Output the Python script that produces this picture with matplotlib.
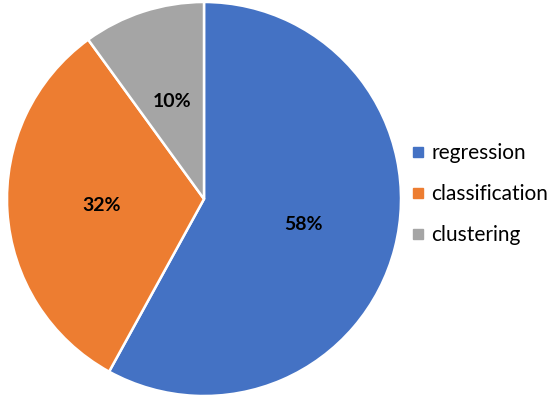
import matplotlib.pyplot as plt
from matplotlib.lines import Line2D

plt.rcParams['font.family'] = ['Lato', 'DejaVu Sans']

categories = ['regression', 'classification', 'clustering']
shares = [58, 32, 10]
colors = ['#4472C4', '#ED7D31', '#A5A5A5']

fig = plt.figure(figsize=(5.5, 4.03), dpi=100)
ax = fig.add_axes([7 / 550, 7 / 403, 394 / 550, 394 / 403])

wedges, texts, autotexts = ax.pie(
    shares, colors=colors, startangle=90, counterclock=False,
    autopct='%d%%', pctdistance=0.52,
    wedgeprops=dict(edgecolor='white', linewidth=1.8),
    textprops=dict(fontsize=14, fontweight='bold', color='black'),
)
ax.set_aspect('equal')
ax.set_xlim(-1, 1)
ax.set_ylim(-1, 1)

handles = [Line2D([], [], marker='s', linestyle='none', markersize=7,
                  markerfacecolor=c, markeredgecolor=c) for c in colors]
fig.legend(handles, categories, loc='center left',
           bbox_to_anchor=(393 / 550, 1 - 194 / 403), frameon=False,
           fontsize=15, handletextpad=0.15, labelspacing=1.0,
           handlelength=1.0, borderpad=0.2)

fig.savefig('out.png', dpi=100)
